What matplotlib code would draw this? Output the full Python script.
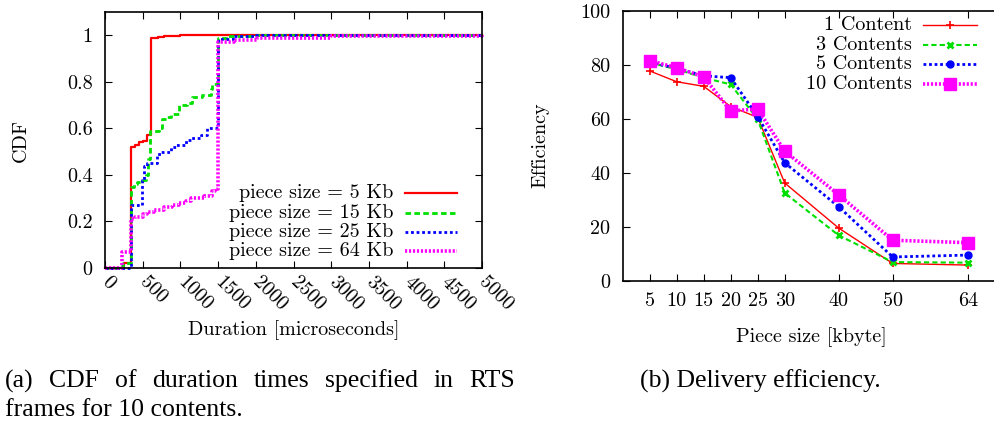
import matplotlib
matplotlib.use("Agg")
import matplotlib.pyplot as plt
from matplotlib.lines import Line2D

plt.rcParams['font.family'] = ['cmr10', 'DejaVu Serif']
plt.rcParams['mathtext.fontset'] = 'cm'
plt.rcParams['axes.formatter.use_mathtext'] = True

# ---------------- data: (a) CDF of durations ----------------
cdf_labels = ["piece size = 5 Kb", "piece size = 15 Kb",
              "piece size = 25 Kb", "piece size = 64 Kb"]
dur_5 = [0, 250, 349, 400, 450, 500, 552, 614, 700, 782, 1000, 5000]
cdf_5 = [0, 0.02, 0.52, 0.53, 0.54, 0.545, 0.57, 0.99, 0.993, 0.995, 1.0, 1.0]
dur_15 = [0, 200, 240, 349, 380, 428, 500, 540, 570, 592, 715, 760, 820, 870,
          980, 1091, 1157, 1290, 1400, 1422, 1500, 1600, 2000, 5000]
cdf_15 = [0, 0.01, 0.02, 0.35, 0.36, 0.37, 0.38, 0.40, 0.47, 0.59, 0.60, 0.64,
          0.65, 0.66, 0.70, 0.71, 0.735, 0.745, 0.77, 0.79, 0.99, 0.995, 1.0, 1.0]
dur_25 = [0, 349, 495, 517, 561, 693, 738, 870, 936, 1069, 1135, 1268, 1356,
          1500, 1700, 2000, 5000]
cdf_25 = [0, 0.27, 0.38, 0.44, 0.45, 0.49, 0.50, 0.52, 0.53, 0.55, 0.56, 0.57,
          0.60, 0.985, 0.995, 1.0, 1.0]
dur_64 = [0, 230, 349, 400, 500, 561, 649, 782, 892, 980, 1069, 1135, 1312,
          1422, 1460, 1500, 1709, 2018, 3000, 5000]
cdf_64 = [0, 0.07, 0.21, 0.22, 0.23, 0.24, 0.25, 0.26, 0.27, 0.28, 0.29, 0.30,
          0.31, 0.33, 0.34, 0.97, 0.98, 0.99, 0.995, 1.0]
dur_ticks = list(range(0, 5001, 500))
cdf_ticks = [0, 0.2, 0.4, 0.6, 0.8, 1.0]
cdf_tick_labels = ["0", "0.2", "0.4", "0.6", "0.8", "1"]

# ---------------- data: (b) delivery efficiency ----------------
piece_size = [5, 10, 15, 20, 25, 30, 40, 50, 64]
eff_labels = ["1 Content", "3 Contents", "5 Contents", "10 Contents"]
eff_1 = [77.8, 73.8, 72.1, 64.6, 60.6, 36.3, 19.6, 6.5, 5.9]
eff_3 = [80.9, 78.4, 75.3, 72.8, 59.9, 32.6, 16.9, 7.0, 6.8]
eff_5 = [81.0, 78.8, 76.0, 75.3, 60.9, 43.8, 27.5, 8.9, 9.6]
eff_10 = [81.6, 79.0, 75.6, 63.0, 63.7, 48.1, 31.9, 15.1, 14.2]
eff_ticks = [0, 20, 40, 60, 80, 100]

W, H = 994, 432
FS = 14.5
fig = plt.figure(figsize=(W / 100, H / 100), dpi=100)

def frac(l, t, r, b):
    return [l / W, (H - b) / H, (r - l) / W, (b - t) / H]

RED, GREEN, BLUE, MAG = '#ff0000', '#00e000', '#0000ff', '#ff00ff'
styles_a = [
    dict(color=RED, lw=1.6, ls='-'),
    dict(color=GREEN, lw=2.0, ls=(0, (2.0, 1.2))),
    dict(color=BLUE, lw=2.0, ls=(0, (1.0, 1.0))),
    dict(color=MAG, lw=2.6, ls=(0, (0.6, 0.5))),
]

# ---------------- panel (a) ----------------
ax1 = fig.add_axes(frac(105, 12, 482, 268))
series_a = [(dur_5, cdf_5), (dur_15, cdf_15), (dur_25, cdf_25), (dur_64, cdf_64)]
for (x, y), st in zip(series_a, styles_a):
    ax1.plot(x, y, drawstyle='steps-post', clip_on=False, **st)
ax1.set_xlim(0, 5000)
ax1.set_ylim(0, 1.1)
ax1.set_xticks(dur_ticks)
ax1.set_xticklabels([str(v) for v in dur_ticks], rotation=-45,
                    ha='left', va='center', rotation_mode='anchor')
ax1.set_yticks(cdf_ticks)
ax1.set_yticklabels(cdf_tick_labels)
ax1.tick_params(direction='in', top=True, right=True, length=5, width=0.8,
                labelsize=FS)
ax1.tick_params(axis='y', pad=9)
ax1.tick_params(axis='x', pad=8)
ax1.set_ylabel("CDF", fontsize=FS)
ax1.yaxis.set_label_coords(-0.198, 0.5)
ax1.set_xlabel("Duration [microseconds]", fontsize=FS)
ax1.xaxis.set_label_coords(0.5, -0.205)
for s in ax1.spines.values():
    s.set_linewidth(1.2)

# legend drawn manually (right-aligned text, sample on the right)
leg_y_a = [0.293, 0.215, 0.141, 0.066]
for lab, st, yy in zip(cdf_labels, styles_a, leg_y_a):
    ax1.text(0.764, yy, lab, transform=ax1.transAxes, ha='right',
             va='center', fontsize=FS)
    ax1.add_line(Line2D([0.796, 0.934], [yy, yy], transform=ax1.transAxes,
                        **st))

# ---------------- panel (b) ----------------
ax2 = fig.add_axes(frac(622.7, 11, 1000.7, 281))
styles_b = [
    dict(color=RED, lw=1.0, ls='-', marker='+', ms=6, mew=1.2),
    dict(color=GREEN, lw=1.5, ls=(0, (2.5, 1.5)), marker='x', ms=5, mew=2),
    dict(color=BLUE, lw=2.0, ls=(0, (1.0, 1.0)), marker='o', ms=5),
    dict(color=MAG, lw=2.6, ls=(0, (0.6, 0.5)), marker='s', ms=8),
]
series_b = [eff_1, eff_3, eff_5, eff_10]
for y, st in zip(series_b, styles_b):
    ax2.plot(piece_size, y, clip_on=False, **st)
ax2.set_xlim(0, 70)
ax2.set_ylim(0, 100)
ax2.set_xticks(piece_size)
ax2.set_xticklabels([str(v) for v in piece_size])
ax2.set_yticks(eff_ticks)
ax2.set_yticklabels([str(v) for v in eff_ticks])
ax2.tick_params(direction='in', top=True, right=True, length=5, width=0.8,
                labelsize=FS)
ax2.tick_params(axis='y', pad=9)
ax2.tick_params(axis='x', pad=8)
ax2.set_ylabel("Efficiency", fontsize=FS)
ax2.yaxis.set_label_coords(-0.195, 0.504)
ax2.set_xlabel("Piece size [kbyte]", fontsize=FS)
ax2.xaxis.set_label_coords(0.5, -0.17)
for s in ax2.spines.values():
    s.set_linewidth(1.2)

leg_y_b = [0.948, 0.874, 0.803, 0.729]
for lab, st, yy in zip(eff_labels, styles_b, leg_y_b):
    ax2.text(0.765, yy, lab, transform=ax2.transAxes, ha='right',
             va='center', fontsize=FS)
    ln = dict(st)
    ln['marker'] = None
    ax2.add_line(Line2D([0.794, 0.937], [yy, yy], transform=ax2.transAxes,
                        **ln))
    ax2.add_line(Line2D([0.866], [yy], transform=ax2.transAxes, ls='none',
                        marker=st['marker'], ms=st['ms'],
                        mew=st.get('mew', 1), color=st['color']))

# ---------------- captions ----------------
cap_font = dict(family=['Liberation Serif', 'DejaVu Serif'], fontsize=18.5)
renderer = fig.canvas.get_renderer()
words = "(a) CDF of duration times specified in RTS".split()
x0, x1 = 5, 515
texts = [fig.text(0, 1 - 381 / H, w, va='center', ha='left', **cap_font)
         for w in words]
widths = [t.get_window_extent(renderer).width for t in texts]
gap = (x1 - x0 - sum(widths)) / (len(words) - 1)
xx = x0
for t, w in zip(texts, widths):
    t.set_x(xx / W)
    xx += w + gap
fig.text(5 / W, 1 - 410 / H, "frames for 10 contents.", va='center',
         ha='left', **cap_font)
fig.text(640 / W, 1 - 381 / H, "(b) Delivery efficiency.", va='center',
         ha='left', **cap_font)

fig.savefig("out.png", dpi=100)
